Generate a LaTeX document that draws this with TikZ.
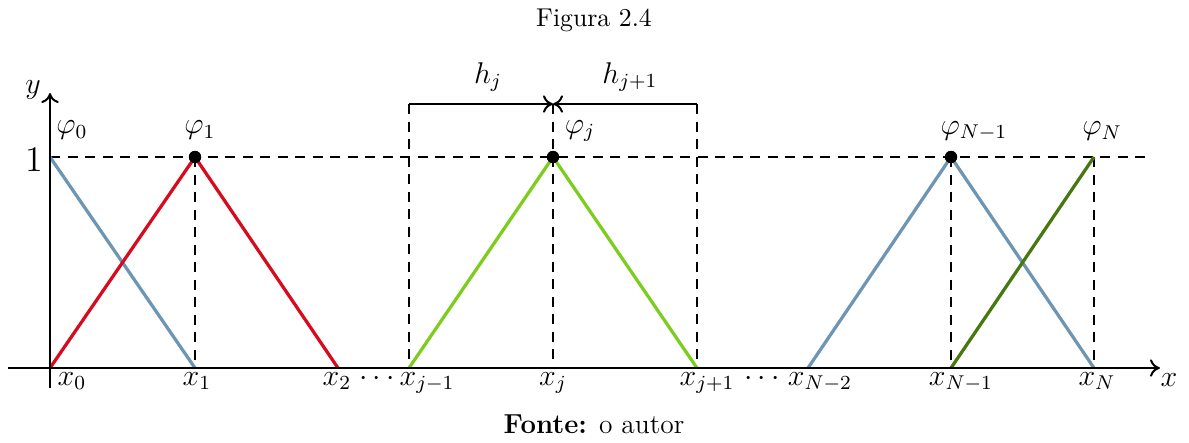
\documentclass[tikz,border=0pt]{standalone}
\usetikzlibrary{arrows.meta}
\definecolor{cblue}{RGB}{108,150,180}
\definecolor{cred}{RGB}{215,10,30}
\definecolor{clgreen}{RGB}{125,205,30}
\definecolor{cdgreen}{RGB}{70,120,15}
\begin{document}
\begin{tikzpicture}[x=0.4pt,y=-0.4pt,
  axis/.style={line width=0.8pt,-{To[length=4pt,width=7pt]}},
  guide/.style={line width=0.8pt,dash pattern=on 4pt off 3pt},
  basis/.style={line width=1.3pt},
  dot/.style={circle,fill=black,inner sep=0pt,minimum size=5pt},
  lbl/.style={font=\large,inner sep=0pt},
  dim/.style={line width=0.8pt,-{To[length=4pt,width=7pt]}}]
\useasboundingbox (0,0) rectangle (1189,442);
% coordinates
\coordinate (o) at (50,368);
\coordinate (x1) at (195,368);
\coordinate (x2) at (338,368);
\coordinate (xjm) at (409,368);
\coordinate (xj) at (553,368);
\coordinate (xjp) at (697,368);
\coordinate (xNm2) at (808,368);
\coordinate (xNm) at (951,368);
\coordinate (xN) at (1094,368);
\coordinate (p0) at (50,157);
\coordinate (p1) at (195,157);
\coordinate (pj) at (553,157);
\coordinate (pNm) at (951,157);
\coordinate (pN) at (1094,157);
\coordinate (hend) at (1152,157);
\coordinate (tjm) at (409,104);
\coordinate (tj) at (553,104);
\coordinate (tjp) at (697,104);
\coordinate (xs) at (8,368);
\coordinate (xe) at (1160,368);
\coordinate (ys) at (50,388);
\coordinate (ye) at (50,93);
% guides
\draw[guide] (p0) -- (hend);
\draw[guide] (p1) -- (x1);
\draw[guide] (tjm) -- (xjm);
\draw[guide] (tj) -- (xj);
\draw[guide] (tjp) -- (xjp);
\draw[guide] (pNm) -- (xNm);
\draw[guide] (pN) -- (xN);
% dimension
\draw[dim] (tjm) -- (tj);
\draw[dim] (tjp) -- (tj);
% basis functions
\draw[basis,cblue] (p0) -- (x1);
\draw[basis,cred] (o) -- (p1) -- (x2);
\draw[basis,clgreen] (xjm) -- (pj) -- (xjp);
\draw[basis,cblue] (xNm2) -- (pNm) -- (xN);
\draw[basis,cdgreen] (xNm) -- (pN);
% axes
\draw[axis] (xs) -- (xe);
\draw[axis] (ys) -- (ye);
% dots
\node[dot] (d1) at (p1) {};
\node[dot] (dj) at (pj) {};
\node[dot] (dNm) at (pNm) {};
% labels
\node[lbl] (ly) at (33,90) {$y$};
\node[lbl] (lx) at (1169,380) {$x$};
\node[font=\Large,inner sep=0pt] (one) at (34,160) {$1$};
\node[lbl] (f0) at (72,130) {$\varphi_0$};
\node[lbl] (f1) at (200,130) {$\varphi_1$};
\node[lbl] (fj) at (580,131) {$\varphi_j$};
\node[lbl] (fNm) at (974,131) {$\varphi_{N-1}$};
\node[lbl] (fN) at (1102,131) {$\varphi_N$};
\node[lbl] (hj) at (488,77) {$h_j$};
\node[lbl] (hjp) at (630,77) {$h_{j+1}$};
\node[lbl,anchor=north] (l0) at (72,372) {$x_0$};
\node[lbl,anchor=north] (l1) at (197,372) {$x_1$};
\node[lbl,anchor=north] (l2) at (337,372) {$x_2$};
\node[lbl,anchor=north] (dots1) at (377,372) {$\cdots$};
\node[lbl,anchor=north] (ljm) at (427,372) {$x_{j-1}$};
\node[lbl,anchor=north] (lj) at (553,372) {$x_j$};
\node[lbl,anchor=north] (ljp) at (707,372) {$x_{j+1}$};
\node[lbl,anchor=north] (dots2) at (762,372) {$\cdots$};
\node[lbl,anchor=north] (lNm2) at (820,372) {$x_{N-2}$};
\node[lbl,anchor=north] (lNm) at (961,372) {$x_{N-1}$};
\node[lbl,anchor=north] (lN) at (1097,372) {$x_N$};
% title and source
\node (title) at (594,20) {\fontsize{10.3}{12}\selectfont Figura 2.4};
\node (src) at (594,424) {\fontsize{11}{13}\selectfont\textbf{Fonte:} o autor};
\end{tikzpicture}
\end{document}
